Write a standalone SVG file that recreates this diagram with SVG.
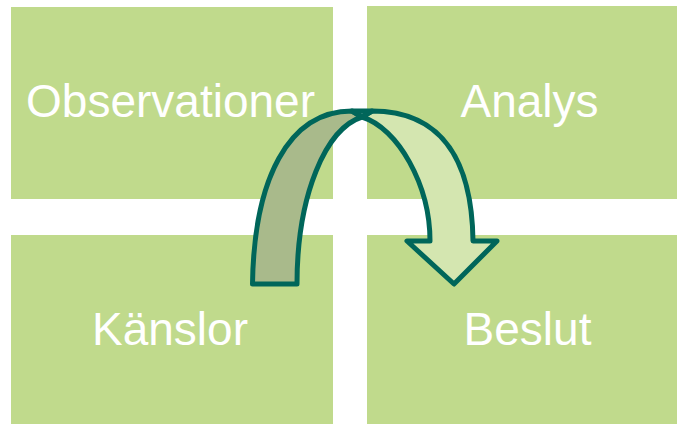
<svg xmlns="http://www.w3.org/2000/svg" width="677" height="424" viewBox="0 0 677 424">
  <style>
    .box { fill: #c0da8c; }
    .lbl { font-family: "Liberation Sans", Arial, sans-serif; font-size: 46px; fill: #ffffff; text-anchor: middle; }
    .arr { stroke: #00665a; stroke-width: 5; stroke-linejoin: round; }
    .dark { fill: #a9ba8b; }
    .light { fill: #d4e6b0; }
  </style>
  <rect x="0" y="0" width="677" height="424" fill="#ffffff"/>
  <g id="node-observationer">
    <rect class="box" x="11" y="7" width="322" height="192"/>
    <text class="lbl" x="170.5" y="117">Observationer</text>
  </g>
  <g id="node-analys">
    <rect class="box" x="367" y="6" width="310" height="193"/>
    <text class="lbl" x="529.5" y="117">Analys</text>
  </g>
  <g id="node-kanslor">
    <rect class="box" x="11" y="235" width="322" height="189"/>
    <text class="lbl" x="170" y="345">Känslor</text>
  </g>
  <g id="node-beslut">
    <rect class="box" x="367" y="235" width="310" height="189"/>
    <text class="lbl" x="527.5" y="345">Beslut</text>
  </g>
  <g id="connectors">
    <path class="arr dark" d="M252.5,284 C254,180 288,111 352,111 L362,117 C326,128 297,195 297,284 Z"/>
    <path class="arr light" d="M372,111 C445,111 472,165 473,241 L497,241 L454,284 L407,241 L430,241 C430,185 398,128 362,117 Z"/>
    <path class="arr" fill="none" d="M352,111 L372,111 L362,117 Z"/>
  </g>
</svg>
